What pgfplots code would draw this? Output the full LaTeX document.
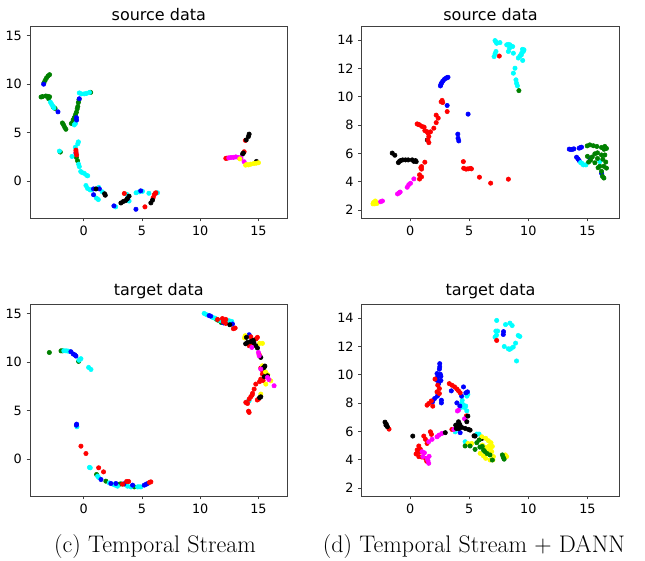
\documentclass[border=0pt]{standalone}
\usepackage{fontspec}
\usepackage{pgfplots}
\pgfplotsset{compat=1.18}
\newfontfamily\dejavu{DejaVu Sans}
\definecolor{mgreen}{RGB}{0,128,0}
\definecolor{mcyan}{RGB}{0,255,255}
\definecolor{mmagenta}{RGB}{255,0,255}
\definecolor{myellow}{RGB}{255,255,0}
\definecolor{mred}{RGB}{255,0,0}
\definecolor{mblue}{RGB}{0,0,255}

\pgfplotsset{
  panel/.style={
    scale only axis, width=193.2pt, height=144pt, anchor=south west,
    axis line style={black!75, line width=0.6pt},
    tick style={black!75, line width=0.6pt},
    tick align=outside, major tick length=2.6pt,
    xtick pos=lower, ytick pos=left,
    xtick={0,5,10,15},
    ticklabel style={font=\dejavu\fontsize{9.6}{11}\selectfont},
    /pgf/number format/assume math mode=true,
    title style={font=\dejavu\fontsize{12}{14}\selectfont, yshift=-5.5pt},
  },
  panelA/.style={panel, xmin=-4.6, xmax=17.5, ymin=-3.8, ymax=16, ytick={0,5,10,15}},
  panelB/.style={panel, xmin=-4.1, xmax=17.7, ymin=1.45, ymax=15, ytick={2,4,...,14}},
  pts/.style={only marks, mark=*, mark size=1.65pt, color=#1, mark options={draw=none, fill=#1}},
}

\begin{document}
\begin{tikzpicture}
\useasboundingbox (0,0) rectangle (483.75pt,-420pt);

% (c) source
\begin{axis}[panelA, at={(22.5pt,-163.5pt)}, title={source data}]
\addplot[pts=mgreen] coordinates {(-3.40,10.15) (-3.30,10.40) (-3.18,10.65) (-3.05,10.85) (-2.92,10.98)
 (-3.65,8.68) (-3.52,8.72) (-3.25,8.78) (-3.08,8.75) (-2.92,8.70) (-3.00,8.50)
 (-2.60,7.65) (-2.45,7.50) (-1.82,6.00) (-1.72,5.80) (-1.62,5.55) (-1.52,5.35)
 (-0.40,8.40) (-0.45,8.10) (-0.50,7.70) (-0.55,7.45) (-0.62,7.10) (-0.70,6.85) (-0.80,6.55) (-0.90,6.30) (-1.05,5.95)
 (0.60,9.15) (-2.00,3.00) (-0.62,2.45) (-0.52,2.10)};
\addplot[pts=mcyan] coordinates {(-2.85,8.15) (-2.75,7.95) (-2.65,7.75) (-2.55,7.55) (-0.37,9.10) (-0.20,9.00) (0.05,9.00) (0.25,9.05) (0.50,9.15)
 (-0.80,5.80) (-0.70,5.95) (-2.08,3.10) (-0.45,4.05) (-0.50,3.85) (-0.71,3.50) (-1.00,2.55) (-0.43,1.75) (-0.37,1.50) (-0.25,1.00) (-0.15,0.90)
 (0.06,0.80) (0.26,0.60) (0.35,0.55) (0.20,-0.45) (0.34,-0.75) (0.55,-0.90) (0.65,-0.90) (1.30,-0.65) (1.60,-1.10) (1.10,-1.75) (1.26,-1.90)
 (2.75,-2.65) (3.69,-1.35) (3.90,-2.05) (4.50,-1.20) (4.77,-1.10) (5.05,-1.05) (5.60,-1.25) (6.34,-1.20)};
\addplot[pts=mblue] coordinates {(-3.43,10.00) (-2.20,7.15) (-0.60,6.30) (-0.37,8.50) (-0.66,2.90) (-0.62,6.55) (0.85,-0.80) (1.35,-0.80) (0.85,-1.40)
 (2.60,-2.55) (3.77,-1.80) (4.49,-2.90) (4.90,-1.00)};
\addplot[pts=mred] coordinates {(-0.66,3.20) (-0.65,3.00) (-0.60,2.70) (3.49,-1.27) (5.26,-2.65) (5.97,-1.70) (6.06,-1.40) (6.15,-1.25) (6.20,-1.20)
 (13.88,4.20) (13.77,3.03) (12.20,2.35) (12.30,2.37)};
\addplot[pts=black] coordinates {(1.06,-0.80) (1.80,-1.30) (1.86,-1.45) (3.20,-2.25) (3.40,-2.10) (3.60,-2.00) (3.75,-1.80) (3.90,-1.55) (5.77,-2.24) (5.91,-1.96)
 (14.20,4.85) (14.14,4.60) (13.95,4.25) (13.63,2.79) (13.70,2.90) (14.83,2.03)};
\addplot[pts=mmagenta] coordinates {(12.45,2.40) (12.63,2.44) (12.85,2.45) (13.06,2.50) (13.29,2.44) (13.50,2.38) (13.77,2.00)};
\addplot[pts=myellow] coordinates {(13.40,2.30) (13.90,1.65) (14.00,1.72) (14.15,1.68) (14.34,1.75) (14.60,1.82) (14.80,1.85) (15.00,1.90)};
\end{axis}

% (d) source
\begin{axis}[panelB, at={(271.3pt,-163.5pt)}, title={source data}]
\addplot[pts=myellow] coordinates {(-3.10,2.55) (-3.00,2.45) (-2.90,2.55) (-2.80,2.48) (-2.95,2.65) (-3.15,2.45)};
\addplot[pts=mmagenta] coordinates {(-2.50,2.60) (-2.35,2.65) (-1.07,3.15) (-0.95,3.22) (-0.85,3.28) (-0.25,3.62) (-0.12,3.80) (0.03,3.90) (0.31,4.21)};
\addplot[pts=black] coordinates {(-1.52,6.03) (-1.30,5.88) (-1.00,5.36) (-0.90,5.45) (-0.82,5.50) (-0.63,5.55) (-0.40,5.55) (-0.17,5.55) (0.17,5.55)
 (0.31,5.45) (0.51,5.43) (0.45,5.50) (1.45,6.96)};
\addplot[pts=mred] coordinates {(0.96,5.08) (0.96,4.90) (1.24,5.39) (0.79,4.50) (0.96,4.35) (0.79,4.20) (0.90,5.00)
 (0.59,8.09) (0.70,8.05) (0.79,8.02) (1.00,7.91) (1.18,7.86) (1.24,7.62) (1.40,7.55) (1.52,7.42) (1.58,7.20) (1.50,6.96) (1.58,6.77)
 (1.72,7.53) (2.00,7.79) (2.20,8.18) (2.37,8.50) (2.20,8.71) (2.62,9.65) (2.70,9.75) (2.75,9.60) (3.13,8.96)
 (4.50,5.43) (4.53,4.96) (4.73,4.90) (4.90,4.92) (5.10,4.95) (5.18,4.92) (5.86,4.33) (6.81,3.91) (8.31,4.19) (7.54,12.88)};
\addplot[pts=mblue] coordinates {(2.56,10.77) (2.60,10.88) (2.66,10.98) (2.75,11.10) (2.87,11.22) (3.00,11.30) (3.10,11.35) (3.20,11.38)
 (3.13,9.39) (4.90,8.78) (4.03,7.37) (4.05,7.08) (4.11,6.89)
 (13.46,6.31) (13.60,6.28) (13.75,6.30) (13.85,6.33) (14.30,6.38) (14.40,6.42) (14.50,6.45) (14.08,5.74) (14.20,5.62) (14.30,5.50) (15.20,5.66) (16.20,4.60)};
\addplot[pts=mcyan] coordinates {(7.18,13.97) (7.25,13.90) (7.32,13.78) (7.60,13.83) (8.17,13.67) (8.30,13.70) (8.45,13.67) (8.67,13.55) (8.40,13.43)
 (8.31,13.20) (8.73,13.08) (7.26,13.20) (7.18,13.03) (7.10,12.84) (9.57,13.20) (9.63,13.32) (9.50,13.35) (9.43,13.08) (9.29,12.90) (9.15,12.74)
 (9.52,12.57) (9.40,12.95) (8.87,12.02) (8.73,11.67) (8.95,11.20) (9.00,10.96) (9.07,10.78)
 (14.42,5.36) (14.65,5.20) (14.87,5.20) (16.05,5.43) (14.55,5.30)};
\addplot[pts=mgreen] coordinates {(9.20,10.44) (14.98,6.54) (15.20,6.61) (15.50,6.55) (15.80,6.50) (16.19,6.43) (16.47,6.50) (16.61,6.36) (16.40,6.30)
 (15.63,5.98) (15.85,6.05) (16.19,5.90) (16.47,5.90) (15.41,5.76) (15.27,5.53) (15.85,5.65) (15.63,5.35) (16.05,5.10) (16.39,5.10)
 (16.61,4.97) (16.19,4.74) (16.27,4.39) (16.39,4.27) (16.55,5.40) (15.90,5.00) (16.30,5.60) (15.00,5.80) (15.10,5.40)};
\end{axis}

% (c) target
\begin{axis}[panelA, at={(22.5pt,-372pt)}, title={target data}]
\addplot[pts=mgreen] coordinates {(-2.94,11.00) (-1.94,11.17) (-1.80,11.17) (-0.43,10.08) (1.11,-1.58) (1.91,-2.27) (3.06,-2.58) (3.57,-2.58) (4.34,-2.86) (3.20,-2.55)
 (11.51,14.34) (11.35,14.45) (11.65,14.30) (11.80,14.10)};
\addplot[pts=mcyan] coordinates {(-1.70,11.18) (-1.51,11.17) (-1.35,11.15) (-1.20,11.10) (-0.31,10.29) (-0.23,10.36) (-0.40,10.20) (0.43,9.46) (0.63,9.25)
 (-0.57,3.34) (0.57,-0.89) (0.50,-0.85) (1.29,-1.89) (1.20,-1.75) (2.20,-2.45) (2.71,-2.68) (2.55,-2.60) (2.91,-2.79) (3.77,-2.79) (4.06,-2.86)
 (4.63,-2.86) (4.91,-2.86) (4.75,-2.85)
 (10.34,15.03) (10.54,14.90) (11.06,14.62) (11.25,14.55) (12.20,14.20) (12.40,14.25) (12.49,14.27) (12.71,14.20) (12.60,14.10) (11.70,14.30) (14.20,6.02) (14.00,5.90)};
\addplot[pts=mblue] coordinates {(-1.09,11.08) (-0.89,10.84) (-0.66,10.63) (-0.75,10.75) (-0.60,3.61) (-0.62,3.50) (1.49,-2.10) (2.34,-2.51) (2.77,-2.51)
 (3.45,-2.55) (4.20,-2.68) (5.20,-2.68) (5.35,-2.60) (5.49,-2.51)
 (10.77,14.80) (10.90,14.75) (12.77,13.93) (14.20,12.83) (12.00,14.05)};
\addplot[pts=mred] coordinates {(-0.23,1.34) (0.20,0.58) (1.29,-0.89) (1.71,-1.31) (3.34,-2.58) (3.69,-2.30) (3.86,-2.30) (5.77,-2.34) (5.65,-2.40)
 (11.49,14.41) (11.91,14.50) (12.20,14.41) (12.00,14.15) (12.20,14.00) (13.00,13.52) (12.85,13.45)
 (14.34,12.62) (14.50,12.30) (14.91,12.56) (14.80,12.40) (14.20,11.70) (14.40,12.00) (15.06,10.80) (15.34,9.12) (15.34,8.77) (15.20,8.26)
 (15.40,8.10) (14.77,7.74) (14.63,7.22) (14.49,6.78) (14.34,6.43) (14.45,6.60) (14.20,6.19) (13.91,5.85) (14.06,5.74) (15.00,6.19)
 (14.90,6.10) (14.20,4.82) (14.15,4.95) (15.20,9.40) (15.10,8.00)};
\addplot[pts=myellow] coordinates {(13.86,12.73) (15.34,11.94) (15.10,11.94) (15.34,9.63) (15.80,8.70) (16.06,8.08) (15.63,7.74) (15.20,6.71) (15.60,9.00) (13.80,12.50)};
\addplot[pts=black] coordinates {(12.54,13.86) (13.97,12.56) (14.06,12.04) (14.34,12.14) (14.55,12.25) (14.77,11.70) (14.91,11.46) (13.90,11.90) (15.20,10.49)
 (15.49,9.46) (15.55,9.60) (15.40,9.40) (15.77,8.60) (15.50,8.50) (15.20,6.43) (15.10,6.35) (14.60,12.00)};
\addplot[pts=mmagenta] coordinates {(14.43,11.52) (15.06,10.66) (15.20,9.29) (15.77,8.43) (16.34,7.57) (15.90,8.20) (15.00,11.00)};
\end{axis}

% (d) target
\begin{axis}[panelB, at={(271.3pt,-372pt)}, title={target data}]
\addplot[pts=mcyan] coordinates {(7.32,13.84) (8.07,13.55) (8.44,13.65) (8.63,13.48) (7.40,13.09) (7.25,13.09) (7.18,12.66) (7.30,12.80) (9.14,12.78) (9.28,12.71)
 (8.92,12.24) (7.96,12.00) (8.30,11.84) (8.50,11.84) (8.72,11.96) (8.40,11.80) (9.00,10.98)
 (4.88,8.63) (4.80,8.50) (4.37,8.02) (4.51,7.86) (4.60,7.70) (4.40,7.95) (4.30,7.70) (4.79,7.46) (4.70,7.80) (3.81,5.98) (5.64,5.82) (5.83,5.82) (4.65,5.28) (4.40,8.20)};
\addplot[pts=mblue] coordinates {(7.88,12.85) (7.90,13.05)
 (2.50,10.79) (2.50,10.56) (2.47,10.40) (2.27,10.09) (2.55,10.04) (2.33,9.85) (2.60,9.90) (2.27,9.62) (2.41,9.38) (2.60,9.60) (2.07,8.33) (1.90,8.10)
 (2.64,8.21) (2.64,8.02) (2.30,8.50) (3.48,8.87) (4.51,9.15) (4.71,8.73) (4.85,8.80) (3.95,8.02) (4.23,5.92) (4.20,7.80) (4.35,8.50)};
\addplot[pts=mred] coordinates {(7.32,12.43)
 (2.33,9.27) (2.47,9.03) (2.27,8.80) (2.47,8.68) (1.79,8.16) (1.57,7.98) (1.43,7.86) (1.91,7.79) (2.10,9.70)
 (3.31,9.38) (3.53,9.27) (3.76,9.15) (3.95,9.00) (4.09,8.87) (4.23,8.73) (3.53,6.15) (4.75,7.10) (-1.79,6.17)
 (1.15,5.68) (1.29,5.45) (1.71,5.98) (1.80,5.80) (1.43,5.16) (0.73,4.98) (0.87,4.74) (0.59,4.70) (0.50,4.42) (0.73,4.23) (0.80,4.55)
 (1.00,4.20) (1.30,4.10) (1.40,3.90)};
\addplot[pts=mmagenta] coordinates {(4.09,7.51) (4.00,7.45) (4.60,6.90) (3.70,6.15) (2.69,5.87) (2.27,5.63) (1.85,5.45) (1.57,5.28) (2.45,5.75)
 (1.01,4.58) (1.20,4.50) (1.07,4.23) (1.43,4.11) (1.57,3.76) (1.50,3.95) (1.60,4.25)};
\addplot[pts=black] coordinates {(4.88,7.09) (4.09,6.69) (3.95,6.45) (4.23,6.38) (4.37,6.29) (4.65,6.22) (4.93,6.15) (5.07,6.10) (3.90,6.22) (3.85,6.45)
 (4.79,6.69) (4.20,6.50) (4.10,6.20) (-2.13,6.66) (-2.02,6.52) (-1.93,6.34) (-2.05,6.45) (0.22,5.68) (2.97,5.92) (5.49,5.68) (6.05,5.50) (5.40,5.70)};
\addplot[pts=myellow] coordinates {(6.06,5.63) (6.39,5.52) (6.62,5.35) (6.84,5.21) (6.11,5.05) (6.39,4.88) (6.76,4.74) (6.56,4.58) (6.90,4.58) (5.92,4.46)
 (6.20,4.28) (6.39,4.11) (6.76,3.99) (7.04,4.23) (7.00,4.00) (8.16,4.23) (8.05,4.35) (4.88,5.16) (5.20,5.16) (6.70,5.00) (6.95,4.95)};
\addplot[pts=mgreen] coordinates {(4.65,4.98) (5.07,4.98) (5.64,5.21) (5.83,5.40) (5.49,4.74) (5.90,4.90) (6.20,4.70) (6.30,4.60) (6.75,4.35) (6.50,4.45)
 (7.88,4.18) (7.95,4.05) (7.80,4.35) (6.95,3.99) (6.10,4.95)};
\end{axis}

\node[font=\fontsize{18}{22}\selectfont] at (116.25pt,-410.25pt) {(c) Temporal Stream};
\node[font=\fontsize{18}{22}\selectfont] at (355.5pt,-410.25pt) {(d) Temporal Stream + DANN};
\end{tikzpicture}
\end{document}
